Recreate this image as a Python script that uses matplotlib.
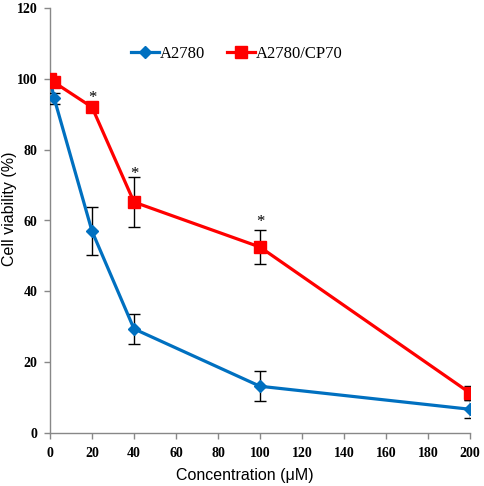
import matplotlib
matplotlib.use("Agg")
import matplotlib.pyplot as plt

conc = [0, 2, 20, 40, 100, 200]
a2780 = [100, 94.5, 57, 29.4, 13.2, 6.7]
a2780_err = [0, 1.5, 6.8, 4.2, 4.3, 2.5]
cp70 = [100, 99, 92, 65.2, 52.5, 11.3]
cp70_err = [0, 0, 0.8, 7, 4.8, 2.0]
star_x = [20, 40, 100]
star_y = [92, 65.2, 52.5]
star_off = [0.3, 5.7, 4.8]
xticks = list(range(0, 201, 20))
yticks = list(range(0, 121, 20))

fig = plt.figure(figsize=(4.84, 4.86), dpi=100)
ax = fig.add_axes([50/484, 1-433/486, 420/484, 425/486])

ax.errorbar(conc, a2780, yerr=a2780_err, color='#0070C0', lw=2.3, marker='D', ms=6,
            ecolor='black', elinewidth=1, capsize=4, capthick=1, label='A2780', zorder=3)
ax.errorbar(conc, cp70, yerr=cp70_err, color='#FF0000', lw=2.3, marker='s', ms=9,
            ecolor='black', elinewidth=1, capsize=4, capthick=1, label='A2780/CP70', zorder=4)
for x, y, o in zip(star_x, star_y, star_off):
    ax.text(x, y + o, '*', ha='center', va='bottom', fontsize=12, family='Liberation Serif')

ax.set_xlim(0, 200)
ax.set_ylim(0, 120)
ax.set_xticks(xticks)
ax.set_yticks(yticks)
for lab in ax.get_xticklabels() + ax.get_yticklabels():
    lab.set_fontfamily('Liberation Serif')
    lab.set_fontweight('bold')
    lab.set_fontsize(10)
ax.tick_params(direction='out', length=4, color='#888888', width=1)
ax.tick_params(axis='x', pad=6)
ax.tick_params(axis='y', pad=5)
for s in ['top', 'right']:
    ax.spines[s].set_visible(False)
for s in ['left', 'bottom']:
    ax.spines[s].set_color('#888888')
    ax.spines[s].set_linewidth(1)
ax.set_xlabel('Concentration (μM)', family='Liberation Sans', fontsize=11.5)
ax.set_ylabel('Cell viability (%)', family='Liberation Sans', fontsize=11.5)
ax.xaxis.label.set_va('center')
ax.yaxis.label.set_va('center')
ax.xaxis.set_label_coords(0.463, -0.1)
ax.yaxis.set_label_coords(-0.0955, 0.527)

h, l = ax.get_legend_handles_labels()
h = [hh[0] for hh in h]
ax.legend(h, l, loc='center left', bbox_to_anchor=(0.176, 0.892), borderaxespad=0,
          ncol=2, frameon=False,
          prop={'family': 'Liberation Serif', 'size': 12}, handlelength=1.7,
          handletextpad=0.05, columnspacing=1.3)

fig.savefig('out.png', dpi=100)
